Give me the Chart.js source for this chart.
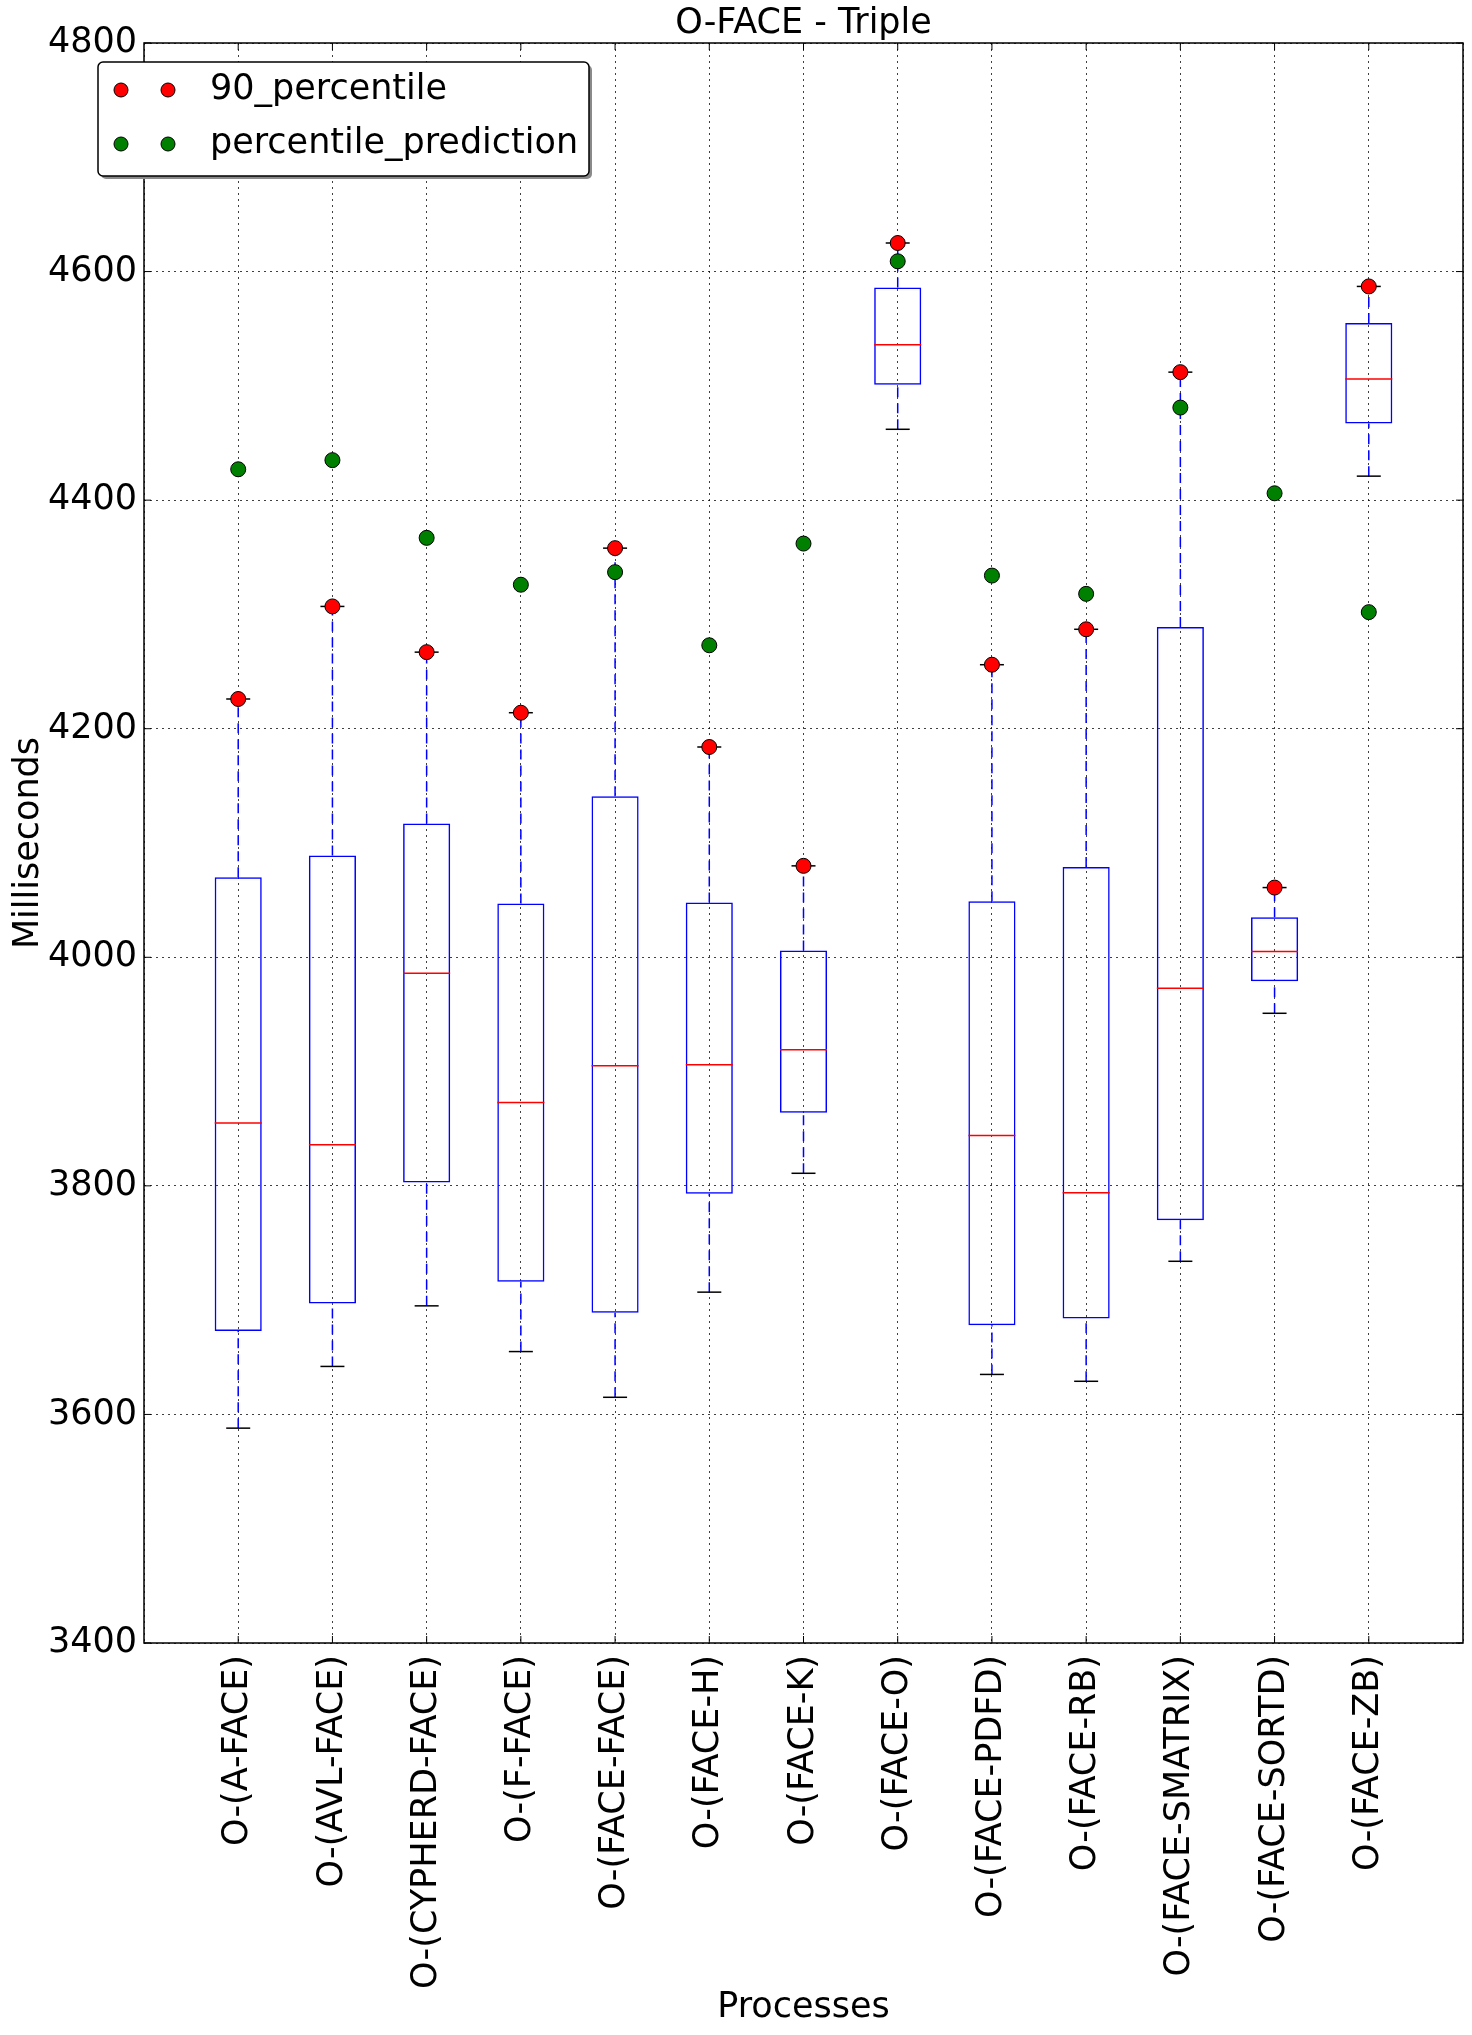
<!DOCTYPE html>
<html>
<head>
<meta charset="utf-8">
<title>O-FACE - Triple</title>
<script src="https://cdn.jsdelivr.net/npm/chart.js@4/dist/chart.umd.min.js"></script>
<style>
  html, body { margin: 0; padding: 0; background: #fff; }
  canvas { display: block; }
</style>
</head>
<body>
<canvas id="canvas" width="1472" height="2035"></canvas>
<script>
// values (milliseconds)
var categories = ["O-(A-FACE)", "O-(AVL-FACE)", "O-(CYPHERD-FACE)", "O-(F-FACE)", "O-(FACE-FACE)",
  "O-(FACE-H)", "O-(FACE-K)", "O-(FACE-O)", "O-(FACE-PDFD)", "O-(FACE-RB)",
  "O-(FACE-SMATRIX)", "O-(FACE-SORTD)", "O-(FACE-ZB)"];
var whiskerLow  = [3588, 3642, 3695, 3655, 3615, 3707, 3811, 4462, 3635, 3629, 3734, 3951, 4421];
var q1          = [3673, 3697, 3803, 3716, 3689, 3793, 3864, 4501, 3678, 3684, 3770, 3979, 4467];
var median      = [3855, 3836, 3986, 3873, 3905, 3906, 3919, 4536, 3844, 3794, 3973, 4005, 4506];
var q3          = [4070, 4089, 4117, 4047, 4141, 4048, 4006, 4586, 4049, 4079, 4289, 4035, 4555];
var whiskerHigh = [4226, 4307, 4267, 4214, 4358, 4184, 4080, 4625, 4256, 4287, 4512, 4061, 4587];
var percentile90 = [4226, 4307, 4267, 4214, 4358, 4184, 4080, 4625, 4256, 4287, 4512, 4061, 4587];
var percentilePrediction = [4427, 4435, 4367, 4326, 4337, 4273, 4362, 4609, 4334, 4318, 4481, 4406, 4302];
var yTicks = [3400, 3600, 3800, 4000, 4200, 4400, 4600, 4800];

function pts(arr) {
  return arr.map(function(v, i) { return {x: i + 1, y: v}; });
}

var boxes = categories.map(function(c, i) { return {x: i + 1, y: [q1[i], q3[i]]}; });
var whiskers = [];
categories.forEach(function(c, i) {
  whiskers.push({x: i + 1, y: whiskerLow[i]}, {x: i + 1, y: q1[i]}, {x: i + 1, y: null});
  whiskers.push({x: i + 1, y: q3[i]}, {x: i + 1, y: whiskerHigh[i]}, {x: i + 1, y: null});
});

Chart.defaults.font.family = "'DejaVu Sans', sans-serif";
Chart.defaults.color = "#000";

// frame and inward tick marks like the matplotlib axes
var framePlugin = {
  id: "frame",
  afterDraw: function(chart) {
    var ctx = chart.ctx, a = chart.chartArea;
    var xs = chart.scales.x, ys = chart.scales.y;
    ctx.save();
    ctx.strokeStyle = "#000";
    ctx.lineWidth = 1;
    ctx.beginPath();
    yTicks.forEach(function(v) {
      var py = ys.getPixelForValue(v);
      ctx.moveTo(a.left, py); ctx.lineTo(a.left + 7, py);
      ctx.moveTo(a.right, py); ctx.lineTo(a.right - 7, py);
    });
    categories.forEach(function(c, i) {
      var px = xs.getPixelForValue(i + 1);
      ctx.moveTo(px, a.bottom); ctx.lineTo(px, a.bottom - 7);
      ctx.moveTo(px, a.top); ctx.lineTo(px, a.top + 7);
    });
    ctx.stroke();
    ctx.lineWidth = 1.5;
    ctx.strokeRect(a.left, a.top, a.right - a.left, a.bottom - a.top);
    ctx.restore();
  }
};

// legend box with two markers per entry, partly outside the axes
var legendPlugin = {
  id: "boxLegend",
  afterDraw: function(chart) {
    var ctx = chart.ctx;
    var x = 98, y = 62, w = 491, h = 114;
    ctx.save();
    ctx.fillStyle = "#8a8a8a";
    ctx.beginPath(); ctx.roundRect(x + 3, y + 3, w, h, 5); ctx.fill();
    ctx.fillStyle = "#fff";
    ctx.strokeStyle = "#000";
    ctx.lineWidth = 1.5;
    ctx.beginPath(); ctx.roundRect(x, y, w, h, 5); ctx.fill(); ctx.stroke();
    var entries = [chart.data.datasets[5], chart.data.datasets[4]];
    entries.forEach(function(ds, k) {
      var ry = 90 + k * 54;
      [121, 168].forEach(function(mx) {
        ctx.beginPath();
        ctx.arc(mx, ry, 7, 0, Math.PI * 2);
        ctx.fillStyle = ds.backgroundColor;
        ctx.fill();
        ctx.lineWidth = 1;
        ctx.strokeStyle = "#000";
        ctx.stroke();
      });
      ctx.fillStyle = "#000";
      ctx.font = "35px 'DejaVu Sans'";
      ctx.textBaseline = "middle";
      ctx.fillText(ds.label, 210, ry);
    });
    ctx.restore();
  }
};

var ctx = document.getElementById("canvas").getContext("2d");
window.myChart = new Chart(ctx, {
  type: "bar",
  data: {
    datasets: [{
      type: "bar",
      label: "box",
      data: boxes,
      backgroundColor: "rgba(0,0,0,0)",
      borderColor: "#0000ff",
      borderWidth: 1.5,
      borderSkipped: false,
      barPercentage: 0.5,
      categoryPercentage: 1,
      order: 6
    }, {
      type: "line",
      label: "whiskers",
      data: whiskers,
      borderColor: "#0000ff",
      borderWidth: 1.5,
      borderDash: [10, 6],
      pointRadius: 0,
      fill: false,
      spanGaps: false,
      order: 5
    }, {
      type: "scatter",
      label: "caps",
      data: pts(whiskerLow).concat(pts(whiskerHigh)),
      pointStyle: "line",
      pointRadius: 12,
      borderColor: "#000",
      borderWidth: 1.5,
      order: 4
    }, {
      type: "scatter",
      label: "median",
      data: pts(median),
      pointStyle: "line",
      pointRadius: 23.5,
      borderColor: "#ff0000",
      borderWidth: 1.5,
      order: 3
    }, {
      type: "scatter",
      label: "percentile_prediction",
      data: pts(percentilePrediction),
      pointRadius: 7.5,
      backgroundColor: "#008000",
      borderColor: "#000",
      borderWidth: 1,
      order: 2
    }, {
      type: "scatter",
      label: "90_percentile",
      data: pts(percentile90),
      pointRadius: 7.5,
      backgroundColor: "#ff0000",
      borderColor: "#000",
      borderWidth: 1,
      order: 1
    }]
  },
  options: {
    responsive: false,
    animation: false,
    layout: { autoPadding: false, padding: { left: 0, right: 9, top: 0, bottom: 0 } },
    plugins: {
      legend: { display: false },
      tooltip: { enabled: false },
      title: {
        display: true,
        text: "O-FACE - Triple",
        fullSize: false,
        color: "#000",
        font: { size: 35, weight: "normal", lineHeight: 1 },
        padding: { top: 6, bottom: 2 }
      }
    },
    scales: {
      x: {
        type: "linear",
        min: 0,
        max: categories.length + 1,
        offset: false,
        grid: { offset: false, color: "rgba(0,0,0,0.75)", lineWidth: 1, drawTicks: false },
        border: { display: false, dash: [2, 4] },
        afterBuildTicks: function(scale) {
          var t = [{value: 0}];
          categories.forEach(function(c, i) { t.push({value: i + 1}); });
          t.push({value: categories.length + 1});
          scale.ticks = t;
        },
        ticks: {
          autoSkip: false,
          minRotation: 90,
          maxRotation: 90,
          padding: 12,
          font: { size: 35 },
          callback: function(v) { return categories[v - 1] || ""; }
        },
        title: {
          display: true,
          text: "Processes",
          font: { size: 35, lineHeight: 1 },
          padding: { top: 0, bottom: 9.5 }
        },
        afterFit: function(scale) {
          scale.height = 392;
          scale.paddingLeft = 0;
          scale.paddingRight = 0;
        }
      },
      y: {
        type: "linear",
        min: 3400,
        max: 4800,
        grid: { color: "rgba(0,0,0,0.75)", lineWidth: 1, drawTicks: false },
        border: { display: false, dash: [2, 4] },
        afterBuildTicks: function(scale) {
          scale.ticks = yTicks.map(function(v) { return {value: v}; });
        },
        ticks: {
          padding: 7,
          font: { size: 35 },
          callback: function(v) { return String(v); }
        },
        title: {
          display: true,
          text: "Milliseconds",
          font: { size: 35, lineHeight: 1 },
          padding: { top: 11, bottom: 0 }
        },
        afterFit: function(scale) {
          scale.width = 144;
          scale.paddingTop = 0;
          scale.paddingBottom = 0;
        }
      }
    }
  },
  plugins: [framePlugin, legendPlugin]
});
</script>
</body>
</html>
